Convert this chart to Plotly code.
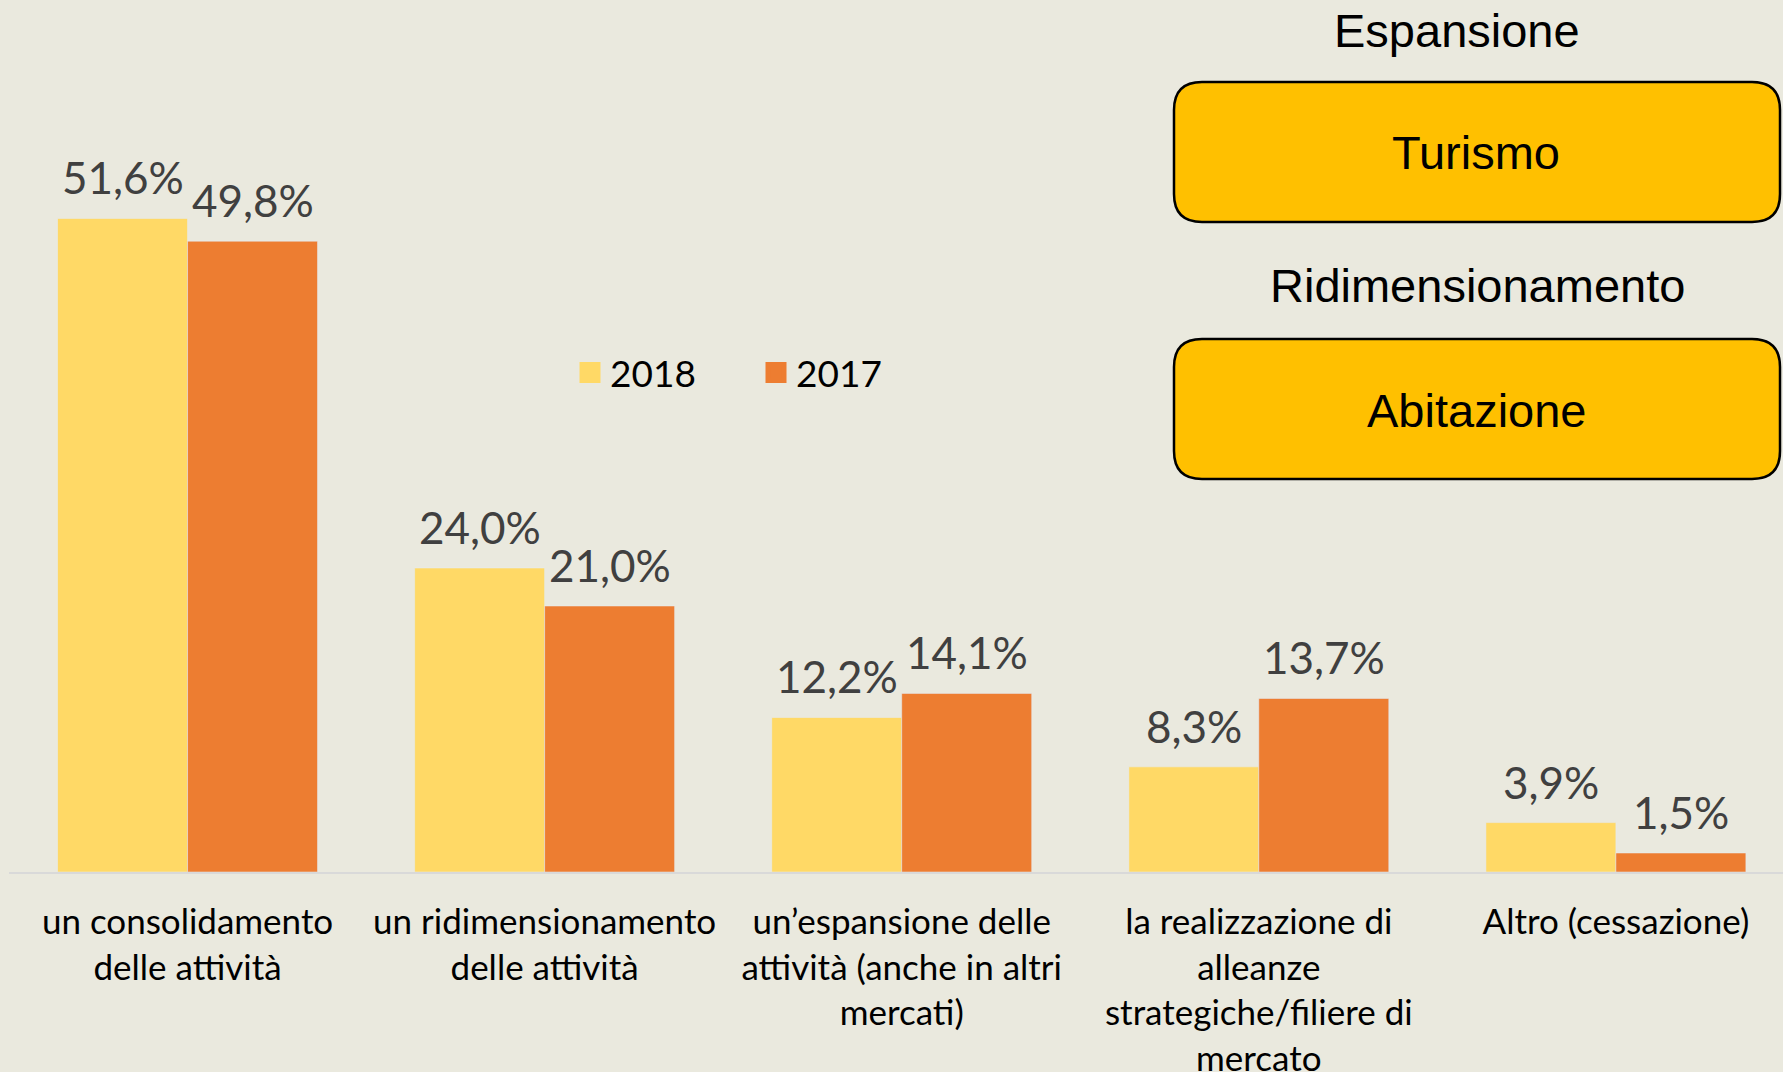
import plotly.graph_objects as go

# dati
categorie = [
    "un consolidamento<br>delle attività",
    "un ridimensionamento<br>delle attività",
    "un’espansione delle<br>attività (anche in altri<br>mercati)",
    "la realizzazione di<br>alleanze<br>strategiche/filiere di<br>mercato",
    "Altro (cessazione)",
]
valori_2018 = [51.6, 24.0, 12.2, 8.3, 3.9]
valori_2017 = [49.8, 21.0, 14.1, 13.7, 1.5]
anni = ["2018", "2017"]

W, H = 1783, 1072
BG = "#EAE9DE"
GIALLO = "#FFD966"
ARANCIO = "#ED7D31"


def px(x):
    return x / W


def py(y):
    return 1 - y / H


def fmt(v):
    return f"{v:.1f}%".replace(".", ",")


fig = go.Figure()
for nome, vals, col in zip(anni, (valori_2018, valori_2017), (GIALLO, ARANCIO)):
    fig.add_trace(go.Bar(x=categorie, y=vals, name=nome, marker_color=col, showlegend=False))
    # voce di legenda con quadratino più grande
    fig.add_trace(go.Scatter(x=[None], y=[None], mode="markers", name=nome,
                             marker=dict(symbol="square", size=16, color=col,
                                         line=dict(color=col, width=5))))

# etichette dati
annotazioni = []
for vals, shift in ((valori_2018, -65), (valori_2017, 65)):
    for c, v in zip(categorie, vals):
        annotazioni.append(dict(
            x=c, y=v, xref="x", yref="y", text=fmt(v), showarrow=False,
            xshift=shift, yanchor="bottom", yshift=13,
            font=dict(family="Lato", size=44, color="#404040"),
        ))


# riquadri a destra
def rounded_box(x0, y0, x1, y1, r=28):
    pts = (
        f"M {px(x0 + r)},{py(y0)} L {px(x1 - r)},{py(y0)} "
        f"Q {px(x1)},{py(y0)} {px(x1)},{py(y0 + r)} "
        f"L {px(x1)},{py(y1 - r)} Q {px(x1)},{py(y1)} {px(x1 - r)},{py(y1)} "
        f"L {px(x0 + r)},{py(y1)} Q {px(x0)},{py(y1)} {px(x0)},{py(y1 - r)} "
        f"L {px(x0)},{py(y0 + r)} Q {px(x0)},{py(y0)} {px(x0 + r)},{py(y0)} Z"
    )
    return dict(type="path", xref="paper", yref="paper", path=pts,
                fillcolor="#FFC000", line=dict(color="black", width=2.5), layer="above")


shapes = [rounded_box(1174, 82, 1780, 222), rounded_box(1174, 339, 1780, 479)]

testi = [("Espansione", 1457, 31), ("Turismo", 1476, 153),
         ("Ridimensionamento", 1477, 285), ("Abitazione", 1477, 410)]
for t, x, y in testi:
    annotazioni.append(dict(
        x=px(x), y=py(y), xref="paper", yref="paper", text=t, showarrow=False,
        xanchor="center", yanchor="middle",
        font=dict(family="Liberation Sans, Arial", size=47, color="black"),
    ))

fig.update_layout(
    width=W, height=H,
    margin=dict(l=0, r=0, t=0, b=0),
    paper_bgcolor=BG, plot_bgcolor=BG,
    barmode="group", bargap=0.272, bargroupgap=0,
    font=dict(family="Lato", color="black"),
    xaxis=dict(domain=[px(9), 1], range=[-0.5, 4.468], showline=True,
               linecolor="#D9D9D9", linewidth=2, ticks="", showgrid=False,
               tickfont=dict(family="Lato", size=35, color="black"),
               ticklabelstandoff=18, automargin=False),
    yaxis=dict(domain=[py(872), py(112)], range=[0, 60], visible=False, automargin=False),
    legend=dict(orientation="h", x=px(570), y=py(373), xanchor="left", yanchor="middle",
                font=dict(family="Lato", size=37, color="black"),
                bgcolor="rgba(0,0,0,0)", entrywidth=141),
    annotations=annotazioni,
    shapes=shapes,
)

fig.write_html("out.html", config={"displayModeBar": False},
               post_script="document.body.style.margin='0';")
